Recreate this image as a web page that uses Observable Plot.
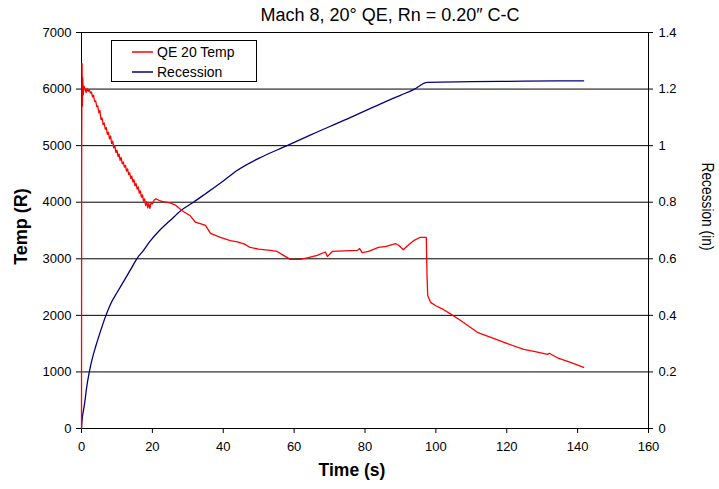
<!DOCTYPE html>
<html>
<head>
<meta charset="utf-8">
<script src="https://cdn.jsdelivr.net/npm/d3@7"></script>
<script src="https://cdn.jsdelivr.net/npm/@observablehq/plot@0.6"></script>
<style>
  html, body { margin: 0; padding: 0; background: #fff; }
  #wrap { position: relative; width: 719px; height: 489px; }
  #legend { position: absolute; left: 111px; top: 40px; width: 144px; height: 40px;
    border: 1px solid #000; background: #fff; font-family: "Liberation Sans", Arial, sans-serif; font-size: 14px; }
  .row { position: absolute; left: 20px; display: flex; align-items: center; height: 18px; }
  .row svg { margin-right: 4px; }
</style>
</head>
<body>
<div id="wrap"><div id="legend"></div></div>
<script>
const title = "Mach 8, 20\u00B0 QE, Rn = 0.20\u2033 C-C";
const xLabel = "Time (s)";
const yLabel = "Temp (R)";
const y2Label = "Recession (in)";
const seriesNames = ["QE 20 Temp", "Recession"];
const seriesColors = ["#ff0000", "#000080"];

const xTicks = [0, 20, 40, 60, 80, 100, 120, 140, 160];
const yTicks = [0, 1000, 2000, 3000, 4000, 5000, 6000, 7000];
const y2Max = 1.4;
const yMax = 7000;

const tempTime = [0, 0.05, 0.15, 0.25, 0.35, 0.5, 0.7, 1.0, 1.3, 1.6, 1.9, 2.2, 2.5, 2.8, 3.1, 3.4, 3.7, 4.0, 4.3, 4.6, 4.9, 5.2, 5.5, 5.8, 6.1, 6.4, 6.7, 7.0, 7.3, 7.6, 7.9, 8.2, 8.5, 8.8, 9.1, 9.4, 9.7, 10.0, 10.3, 10.6, 10.9, 11.2, 11.5, 11.8, 12.1, 12.4, 12.7, 13.0, 13.3, 13.6, 13.9, 14.2, 14.5, 14.8, 15.1, 15.4, 15.7, 16.0, 16.3, 16.6, 16.9, 17.2, 17.5, 17.8, 18.1, 18.4, 18.7, 19.0, 19.3, 19.6, 20.0, 20.5, 21, 22, 23, 25, 26.5, 28.4, 30.7, 32.1, 33.5, 35, 36.4, 38, 39.2, 42, 44, 46, 47.6, 50, 53.3, 55.2, 57, 58.9, 61.8, 64, 66.5, 68.8, 69.4, 70.8, 74, 77.9, 78.5, 79.2, 81, 83.8, 86, 88.6, 89.5, 90.8, 92, 93.7, 95.6, 97.3, 97.5, 97.7, 98.5, 100, 102.2, 104, 107, 109.5, 111.7, 115.5, 120.2, 124.8, 128, 131.5, 132, 134.3, 138, 141.7];
const tempValue = [0, 4800, 6450, 5700, 6200, 5900, 6050, 6000, 5940, 6010, 5960, 5990, 5930, 5950, 5860, 5890, 5780, 5790, 5690, 5700, 5580, 5620, 5460, 5490, 5370, 5400, 5290, 5320, 5200, 5240, 5120, 5170, 5040, 5080, 4960, 5000, 4880, 4920, 4810, 4850, 4740, 4790, 4680, 4710, 4620, 4650, 4550, 4590, 4490, 4520, 4420, 4460, 4360, 4400, 4290, 4330, 4230, 4270, 4160, 4200, 4090, 4130, 4020, 4060, 3940, 4010, 3900, 3980, 3890, 3990, 3970, 4040, 4060, 4030, 4010, 3990, 3950, 3850, 3760, 3650, 3620, 3590, 3450, 3410, 3380, 3320, 3300, 3260, 3200, 3170, 3150, 3130, 3060, 2990, 2990, 3020, 3060, 3120, 3040, 3130, 3140, 3150, 3180, 3110, 3130, 3200, 3220, 3270, 3240, 3160, 3230, 3320, 3380, 3380, 2700, 2350, 2230, 2170, 2100, 2030, 1910, 1800, 1700, 1610, 1500, 1400, 1360, 1310, 1330, 1250, 1170, 1080];

const recTime = [0, 0.2, 0.56, 1, 1.33, 2.2, 3, 4, 5, 6.9, 8.6, 10, 11.9, 14, 15.6, 17.5, 19.2, 22, 25, 28, 31.6, 35, 40, 43.9, 50, 58, 65, 74, 84.4, 90, 93.7, 97.6, 110, 125, 141.7];
const recValue = [0, 0.035, 0.064, 0.1, 0.134, 0.2, 0.245, 0.29, 0.33, 0.4, 0.45, 0.48, 0.52, 0.565, 0.6, 0.63, 0.66, 0.7, 0.735, 0.77, 0.8, 0.83, 0.875, 0.912, 0.955, 1.0, 1.04, 1.089, 1.148, 1.178, 1.198, 1.224, 1.226, 1.228, 1.229];

const temp = tempTime.map((t, i) => ({t, v: tempValue[i]}));
const rec = recTime.map((t, i) => ({t, r: recValue[i]}));
const k = yMax / y2Max;

const font = "'Liberation Sans', Arial, sans-serif";

const chart = Plot.plot({
  width: 719, height: 489,
  marginLeft: 81, marginRight: 71, marginTop: 32, marginBottom: 61,
  x: {domain: [xTicks[0], xTicks[xTicks.length - 1]]},
  y: {domain: [yTicks[0], yTicks[yTicks.length - 1]]},
  style: {fontFamily: font, fontSize: "13px", color: "#000", background: "#fff", overflow: "visible"},
  marks: [
    Plot.ruleY(yTicks.slice(1), {stroke: "#000", strokeWidth: 1}),
    Plot.ruleY([yTicks[0]], {stroke: "#000"}),
    Plot.ruleX([xTicks[0], xTicks[xTicks.length - 1]], {stroke: "#000"}),
    Plot.axisY(yTicks, {anchor: "left", tickSize: 5, tickPadding: 5, label: null, tickFormat: d => String(d)}),
    Plot.axisY(yTicks, {anchor: "right", tickSize: 4, tickPadding: 6, label: null, tickFormat: d => String(+(d / k).toFixed(1))}),
    Plot.axisX(xTicks, {anchor: "bottom", tickSize: 5, tickPadding: 8, label: null, tickFormat: d => String(d)}),
    Plot.line(rec, {x: "t", y: d => d.r * k, stroke: seriesColors[1], strokeWidth: 1.3, curve: "monotone-x"}),
    Plot.line(temp, {x: "t", y: "v", stroke: seriesColors[0], strokeWidth: 1.3}),
    Plot.text([title], {frameAnchor: "top", dx: 25, dy: -17, lineAnchor: "middle", fontSize: 18}),
    Plot.text([yLabel], {frameAnchor: "left", textAnchor: "middle", dx: -60, dy: -4, rotate: -90, lineAnchor: "middle", fontSize: 18, fontWeight: "bold"}),
    Plot.text([y2Label], {frameAnchor: "right", textAnchor: "middle", dx: 59, dy: -24, rotate: 90, lineAnchor: "middle", fontSize: 16.5}),
    Plot.text([xLabel], {frameAnchor: "bottom", textAnchor: "middle", dx: -13, dy: 42, lineAnchor: "middle", fontSize: 17.5, fontWeight: "bold"})
  ]
});
// condense the right-axis label to the reference's narrow look
chart.querySelectorAll("text").forEach(el => {
  if (el.textContent === y2Label) {
    el.setAttribute("textLength", "88");
    el.setAttribute("lengthAdjust", "spacingAndGlyphs");
  }
});
const wrap = document.getElementById("wrap");
wrap.insertBefore(chart, wrap.firstChild);

const legend = document.getElementById("legend");
seriesNames.forEach((name, i) => {
  const row = document.createElement("div");
  row.className = "row";
  row.style.top = (2 + i * 20) + "px";
  row.innerHTML = `<svg width="21" height="4"><line x1="0" x2="21" y1="2" y2="2" stroke="${seriesColors[i]}" stroke-width="1.5"/></svg><span>${name}</span>`;
  legend.appendChild(row);
});
</script>
</body>
</html>
